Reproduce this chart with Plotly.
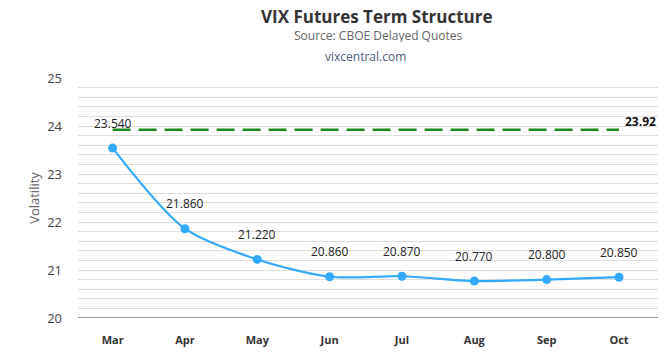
import plotly.graph_objects as go

months = ["Mar", "Apr", "May", "Jun", "Jul", "Aug", "Sep", "Oct"]
futures = [23.54, 21.86, 21.22, 20.86, 20.87, 20.77, 20.80, 20.85]
vix_level = 23.92
vix_label = "23.92"

fig = go.Figure()

fig.add_trace(go.Scatter(
    x=months, y=[vix_level] * len(months), mode="lines",
    line=dict(color="#1a8a1a", width=2.5, dash="18px,8px"),
    hoverinfo="skip", showlegend=False))

fig.add_trace(go.Scatter(
    x=months, y=futures, mode="lines+markers",
    line=dict(color="#33aaff", width=2.2, shape="spline", smoothing=0.8),
    marker=dict(color="#33aaff", size=9),
    showlegend=False))

for m, v in zip(months, futures):
    fig.add_annotation(x=m, y=v, text=f"{v:.3f}", showarrow=False,
                       yshift=25, font=dict(family="Open Sans", size=12, color="#222"))

fig.add_annotation(x=months[-1], y=vix_level, text=f"<b>{vix_label}</b>", showarrow=False,
                   xanchor="left", xshift=4, yshift=8,
                   font=dict(family="Open Sans", size=12, color="#111"))

fig.add_annotation(xref="paper", yref="paper", x=(377 - 78) / 580, y=(353 - 16 - 35) / 240,
                   text="<b>VIX Futures Term Structure</b>", showarrow=False,
                   xanchor="center", yanchor="middle", height=18,
                   font=dict(family="Open Sans", size=17, color="#333"))
fig.add_annotation(xref="paper", yref="paper", x=(378 - 78) / 580, y=(353 - 35 - 35) / 240,
                   text="Source: CBOE Delayed Quotes", showarrow=False,
                   xanchor="center", yanchor="middle", height=14,
                   font=dict(family="Open Sans", size=12, color="#666"))
fig.add_annotation(xref="paper", yref="paper", x=(365 - 78) / 580, y=(353 - 56 - 35) / 240,
                   text="vixcentral.com", showarrow=False,
                   xanchor="center", yanchor="middle",
                   font=dict(family="Open Sans", size=12, color="#4a5a7a"))

fig.update_layout(
    width=672, height=353,
    margin=dict(l=78, r=14, t=78, b=35),
    paper_bgcolor="white", plot_bgcolor="white",
    font=dict(family="Open Sans", color="#333"),
    xaxis=dict(showgrid=False, ticks="", showline=False, zeroline=False,
               ticklabelstandoff=14, automargin=False,
               tickfont=dict(family="Open Sans", size=11, color="#333", weight="bold")),
    yaxis=dict(range=[20, 25], dtick=1, tick0=20, showgrid=True, gridcolor="#dedede",
               minor=dict(dtick=0.2, showgrid=True, gridcolor="#dedede"),
               zeroline=False, ticks="", ticklabelstandoff=15, automargin=False,
               tickfont=dict(size=13, color="#444"),
               title=dict(text="Volatility", font=dict(size=13, color="#666"), standoff=4)),
    shapes=[dict(type="line", xref="paper", yref="y", x0=0, x1=1, y0=20, y1=20,
                 line=dict(color="#333", width=1.2))],
)

fig.write_html("out.html")
